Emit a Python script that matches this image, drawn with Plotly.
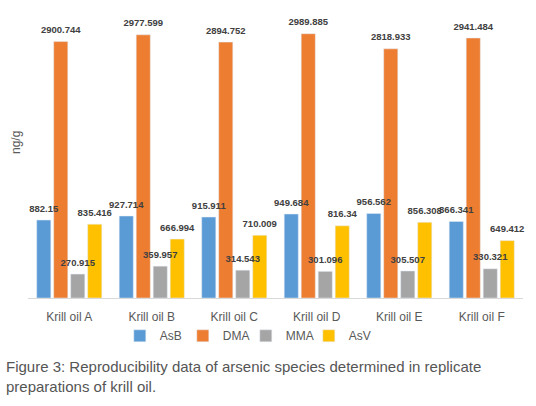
import plotly.graph_objects as go

samples = ["Krill oil A", "Krill oil B", "Krill oil C", "Krill oil D", "Krill oil E", "Krill oil F"]
asb = [882.15, 927.714, 915.911, 949.684, 956.562, 866.341]
dma = [2900.744, 2977.599, 2894.752, 2989.885, 2818.933, 2941.484]
mma = [270.915, 359.957, 314.543, 301.096, 305.507, 330.321]
asv = [835.416, 666.994, 710.009, 816.34, 856.308, 649.412]

series = [
    ("AsB", asb, "#5B9BD5"),
    ("DMA", dma, "#ED7D31"),
    ("MMA", mma, "#A5A5A5"),
    ("AsV", asv, "#FFC000"),
]

fig = go.Figure()
for name, vals, color in series:
    fig.add_trace(go.Bar(x=samples, y=vals, name=name, marker_color=color))

# value labels drawn after all bars so that no bar covers them
for name, vals, color in series:
    fig.add_trace(go.Scatter(
        x=samples, y=vals, mode="markers+text", showlegend=False, hoverinfo="skip",
        marker=dict(size=8, opacity=0),
        text=[str(v) for v in vals], texttemplate="<b>%{text}</b>",
        textposition="top center", cliponaxis=False,
        textfont=dict(size=9.5, color="#404040", family="Liberation Sans"),
    ))

fig.update_layout(
    width=536, height=406,
    margin=dict(l=28, r=13, t=20, b=108),
    barmode="group", bargap=0.176, bargroupgap=0.17,
    scattermode="group", scattergap=0.176,
    plot_bgcolor="white", paper_bgcolor="white",
    font=dict(family="Liberation Sans", color="#595959"),
    legend=dict(orientation="h", x=0.44, xanchor="center", y=-0.136, yanchor="middle",
                font=dict(size=12, color="#595959"), itemwidth=30, entrywidth=18),
    xaxis=dict(showline=True, linecolor="#D9D9D9", linewidth=1, ticks="",
               tickfont=dict(size=12, color="#595959"), ticklabelstandoff=8),
    yaxis=dict(range=[0, 3145], showticklabels=False, showgrid=False, zeroline=False),
)

fig.add_annotation(text="ng/g", xref="paper", yref="paper", x=-0.024, y=0.558,
                   xanchor="center", yanchor="middle",
                   textangle=-90, showarrow=False, font=dict(size=12, color="#595959"))
fig.add_annotation(
    text="Figure 3: Reproducibility data of arsenic species determined in replicate",
    xref="paper", yref="paper", x=-0.048, y=-0.245, xanchor="left", yanchor="middle",
    showarrow=False, font=dict(size=15, color="#555555"))
fig.add_annotation(
    text="preparations of krill oil.",
    xref="paper", yref="paper", x=-0.048, y=-0.32, xanchor="left", yanchor="middle",
    showarrow=False, font=dict(size=15, color="#555555"))

fig.write_html("out.html", config={"displayModeBar": False},
               post_script="document.body.style.margin='0';")
